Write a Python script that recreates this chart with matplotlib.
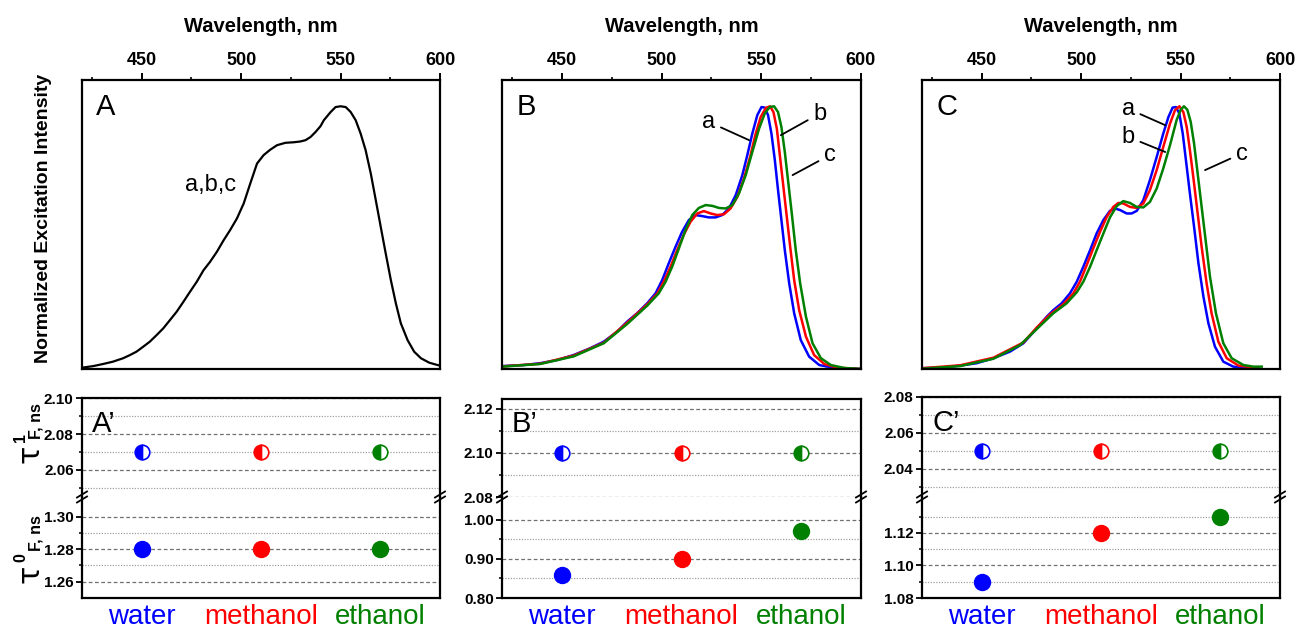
import numpy as np
import matplotlib
matplotlib.use('Agg')
import matplotlib.pyplot as plt
from matplotlib.lines import Line2D

plt.rcParams['font.family'] = ['Liberation Sans', 'DejaVu Sans']

# ---------------- data ----------------
solvents = ['water', 'methanol', 'ethanol']
solvent_colors = ['#0000ff', '#ff0000', '#008000']
wl_ticks = [450, 500, 550, 600]

# Panel A: one curve for a,b,c
A_wl = [420, 425.6, 430.6, 435.6, 440.7, 444.1, 447.4, 450.8, 454.1, 457.5, 460.9, 464.2, 467.6,
        471.0, 474.3, 477.7, 481.1, 484.4, 487.8, 491.2, 494.5, 497.9, 501.3, 504.6, 508.0, 511.3,
        514.7, 518.1, 522.3, 526.5, 529.8, 532.4, 534.9, 537.4, 539.9, 541.6, 545.0, 547.5, 550.0,
        552.6, 555.1, 557.6, 560.1, 562.6, 565.2, 567.7, 570.2, 572.7, 575.3, 577.8, 580.3, 583.7,
        587.0, 590.4, 594.6, 598.8, 600]
A_int = [0.005, 0.011, 0.019, 0.028, 0.041, 0.053, 0.066, 0.085, 0.104, 0.129, 0.155, 0.186, 0.218,
         0.256, 0.294, 0.332, 0.376, 0.408, 0.446, 0.490, 0.529, 0.573, 0.630, 0.706, 0.782, 0.814,
         0.835, 0.852, 0.861, 0.863, 0.866, 0.871, 0.883, 0.902, 0.924, 0.947, 0.978, 0.997, 1.0,
         0.997, 0.978, 0.947, 0.896, 0.833, 0.744, 0.643, 0.541, 0.440, 0.338, 0.250, 0.174, 0.110,
         0.066, 0.041, 0.024, 0.015, 0.013]

# Panel B
B_water_wl = [420, 430.7, 439.1, 447.5, 455.9, 464.2, 471.0, 477.7, 482.7, 487.7, 492.8, 497.0, 500.3,
              503.6, 507.0, 510.3, 513.7, 517.0, 520.4, 523.7, 527.1, 530.4, 533.8, 537.2, 540.5, 543.0,
              545.5, 548.0, 550.1, 551.7, 553.4, 555.1, 556.8, 558.4, 560.1, 561.8, 564.0, 566.5, 569.8,
              574.0, 579.1, 586.6, 600]
B_water = [0.011, 0.015, 0.022, 0.034, 0.053, 0.079, 0.104, 0.142, 0.180, 0.212, 0.250, 0.288, 0.338,
           0.402, 0.465, 0.522, 0.567, 0.586, 0.582, 0.577, 0.577, 0.586, 0.611, 0.662, 0.738, 0.814,
           0.896, 0.966, 0.997, 0.995, 0.966, 0.896, 0.795, 0.681, 0.567, 0.452, 0.326, 0.212, 0.110,
           0.047, 0.015, 0.004, 0.0]
B_meth_wl = [420, 439.1, 455.9, 471.0, 482.7, 492.8, 497.9, 501.1, 504.5, 507.8, 511.2, 514.5, 517.9,
             521.2, 524.6, 527.9, 531.3, 534.6, 538.0, 541.3, 544.4, 547.2, 549.7, 552.3, 554.4, 556.1,
             557.8, 559.4, 561.1, 562.8, 564.5, 566.5, 569.0, 572.4, 576.5, 581.6, 588.3, 600]
B_meth = [0.010, 0.020, 0.051, 0.100, 0.176, 0.246, 0.288, 0.332, 0.389, 0.452, 0.512, 0.560, 0.592,
          0.601, 0.592, 0.586, 0.589, 0.611, 0.655, 0.725, 0.807, 0.896, 0.959, 0.994, 1.0, 0.978,
          0.915, 0.807, 0.693, 0.579, 0.465, 0.338, 0.224, 0.123, 0.053, 0.019, 0.005, 0.0]
B_eth_wl = [420, 439.1, 455.9, 471.0, 482.7, 492.8, 498.6, 502.0, 505.3, 508.7, 512.0, 515.4, 518.7,
            522.1, 525.4, 528.8, 532.1, 535.5, 538.8, 542.2, 545.5, 548.9, 551.7, 554.2, 556.4, 558.4,
            560.1, 561.8, 563.6, 565.3, 567.3, 569.5, 572.4, 575.7, 579.9, 584.9, 591.6, 600]
B_eth = [0.009, 0.019, 0.048, 0.098, 0.171, 0.241, 0.288, 0.332, 0.389, 0.459, 0.529, 0.586, 0.613,
         0.624, 0.621, 0.613, 0.611, 0.624, 0.668, 0.738, 0.826, 0.915, 0.972, 0.997, 1.0, 0.978,
         0.921, 0.826, 0.706, 0.592, 0.452, 0.326, 0.199, 0.098, 0.041, 0.015, 0.004, 0.0]

# Panel C
C_water_wl = [420, 430.7, 439.1, 447.5, 455.9, 464.2, 471.0, 477.7, 482.7, 486.0, 490.2, 494.4, 497.8,
              501.1, 504.5, 507.8, 511.2, 514.5, 517.0, 519.6, 522.9, 525.4, 528.0, 531.3, 534.6, 538.0,
              541.3, 543.9, 546.0, 547.7, 549.4, 551.1, 552.7, 554.7, 556.8, 559.0, 561.5, 564.0, 567.3,
              571.5, 576.5, 584.1]
C_water = [0.003, 0.006, 0.013, 0.022, 0.041, 0.066, 0.098, 0.155, 0.199, 0.224, 0.250, 0.288, 0.332,
           0.389, 0.452, 0.516, 0.567, 0.602, 0.611, 0.605, 0.592, 0.592, 0.602, 0.643, 0.719, 0.807,
           0.896, 0.959, 0.995, 0.997, 0.972, 0.896, 0.795, 0.668, 0.541, 0.402, 0.275, 0.174, 0.085,
           0.028, 0.009, 0.003]
C_meth_wl = [420, 439.1, 455.9, 471.0, 477.7, 484.4, 491.1, 496.1, 499.4, 502.8, 506.1, 509.5, 512.9,
             516.2, 518.7, 521.2, 524.6, 527.9, 531.3, 534.6, 538.0, 541.3, 544.7, 547.2, 549.4, 551.4,
             553.1, 554.7, 556.4, 558.4, 560.6, 563.1, 565.6, 569.0, 573.2, 579.1, 586.6, 589.1]
C_meth = [0.003, 0.014, 0.043, 0.101, 0.158, 0.208, 0.247, 0.288, 0.332, 0.395, 0.459, 0.522, 0.579,
          0.617, 0.632, 0.630, 0.617, 0.613, 0.630, 0.681, 0.757, 0.845, 0.934, 0.985, 1.0, 0.978,
          0.921, 0.833, 0.731, 0.605, 0.465, 0.326, 0.212, 0.104, 0.041, 0.013, 0.006, 0.006]
C_eth_wl = [420, 439.1, 455.9, 469.3, 477.7, 486.0, 492.7, 497.8, 501.1, 504.5, 507.8, 511.2, 514.5,
            517.9, 521.2, 524.6, 527.9, 531.3, 534.6, 538.0, 541.3, 544.7, 548.0, 550.1, 551.7, 553.4,
            555.1, 556.8, 558.4, 560.6, 562.8, 564.8, 567.8, 571.5, 575.7, 581.6, 586.6, 590.8]
C_eth = [0.001, 0.011, 0.039, 0.091, 0.152, 0.212, 0.250, 0.292, 0.332, 0.389, 0.452, 0.516, 0.577,
         0.620, 0.639, 0.632, 0.617, 0.615, 0.636, 0.687, 0.763, 0.852, 0.947, 0.987, 1.0, 0.987,
         0.941, 0.858, 0.757, 0.617, 0.478, 0.351, 0.212, 0.098, 0.041, 0.015, 0.009, 0.009]

# Fluorescence lifetimes (ns)
tau1_A = [2.07, 2.07, 2.07]
tau0_A = [1.28, 1.28, 1.28]
tau1_B = [2.10, 2.10, 2.10]
tau0_B = [0.86, 0.90, 0.97]
tau1_C = [2.05, 2.05, 2.05]
tau0_C = [1.09, 1.12, 1.13]

# ---------------- figure ----------------
W, H = 1299, 628
fig = plt.figure(figsize=(W / 100, H / 100), dpi=100)


def px_axes(x0, y0, x1, y1):
    return fig.add_axes([x0 / W, 1 - y1 / H, (x1 - x0) / W, (y1 - y0) / H])


def fig_text(xpx, ypx, s, **kw):
    return fig.text(xpx / W, 1 - ypx / H, s, **kw)


cols = [(82, 440), (502, 861), (922, 1280)]
top_y = (80, 369)
spine_w = 1.6

# ---- top spectra panels ----
spectra = [
    [(A_wl, A_int, 'black')],
    [(B_water_wl, B_water, solvent_colors[0]), (B_meth_wl, B_meth, solvent_colors[1]),
     (B_eth_wl, B_eth, solvent_colors[2])],
    [(C_water_wl, C_water, solvent_colors[0]), (C_meth_wl, C_meth, solvent_colors[1]),
     (C_eth_wl, C_eth, solvent_colors[2])],
]
letters = ['A', 'B', 'C']
for i, (x0, x1) in enumerate(cols):
    ax = px_axes(x0, top_y[0], x1, top_y[1])
    for wl, it, col in spectra[i]:
        ax.plot(wl, it, color=col, lw=1.8 if i > 0 else 1.6, solid_joinstyle='round')
    ax.set_xlim(420, 600)
    ax.set_ylim(0, 1.1)
    ax.xaxis.tick_top()
    ax.xaxis.set_label_position('top')
    ax.set_xticks(wl_ticks)
    ax.set_xticks([425, 475, 525, 575], minor=True)
    ax.set_yticks([])
    ax.tick_params(axis='x', which='major', direction='out', length=5, width=1.4,
                   labelsize=13, pad=3)
    ax.tick_params(axis='x', which='minor', direction='out', length=2.5, width=1.2)
    for lbl in ax.get_xticklabels():
        lbl.set_fontweight('bold')
    ax.set_xlabel('Wavelength, nm', fontsize=14.5, fontweight='bold', labelpad=14)
    for s in ax.spines.values():
        s.set_linewidth(spine_w)
    ax.text(0.04, 0.88, letters[i], transform=ax.transAxes, fontsize=21,
            ha='left', va='baseline')
    if i == 0:
        ax.set_ylabel('Normalized Excitation Intensity', fontsize=14, fontweight='bold')
        ax.yaxis.set_label_coords(-0.084, 0.522)
        ax.text(484.5, 0.70, 'a,b,c', fontsize=17, ha='center', va='center')
    elif i == 1:
        kw = dict(fontsize=17, ha='center', va='center',
                  arrowprops=dict(arrowstyle='-', color='black', lw=1.3,
                                  shrinkA=2, shrinkB=0))
        ax.annotate('a', xy=(543.9, 0.871), xytext=(523.8, 0.94), **kw)
        ax.annotate('b', xy=(559.8, 0.89), xytext=(579.2, 0.972), **kw)
        ax.annotate('c', xy=(565.7, 0.738), xytext=(584.3, 0.814), **kw)
    else:
        kw = dict(fontsize=17, ha='center', va='center',
                  arrowprops=dict(arrowstyle='-', color='black', lw=1.3,
                                  shrinkA=2, shrinkB=0))
        ax.annotate('a', xy=(542.3, 0.928), xytext=(523.8, 0.99), **kw)
        ax.annotate('b', xy=(542.3, 0.826), xytext=(523.8, 0.883), **kw)
        ax.annotate('c', xy=(562.3, 0.757), xytext=(580.7, 0.82), **kw)

# ---- bottom lifetime panels ----
bottom_cfg = [
    dict(t1=tau1_A, t0=tau0_A, tlim=(2.045, 2.10), tmaj=[2.06, 2.08, 2.10], tmin=[2.05, 2.07, 2.09],
         blim=(1.25, 1.312), bmaj=[1.26, 1.28, 1.30], bmin=[1.27, 1.29], fmt='%.2f', lab='A\u2019',
         top=398),
    dict(t1=tau1_B, t0=tau0_B, tlim=(2.08, 2.1245), tmaj=[2.08, 2.10, 2.12], tmin=[2.09, 2.11],
         blim=(0.80, 1.058), bmaj=[0.80, 0.90, 1.00], bmin=[0.85, 0.95], fmt='%.2f', lab='B\u2019',
         top=399),
    dict(t1=tau1_C, t0=tau0_C, tlim=(2.0244, 2.08), tmaj=[2.04, 2.06, 2.08], tmin=[2.03, 2.05, 2.07],
         blim=(1.08, 1.142), bmaj=[1.08, 1.10, 1.12], bmin=[1.09, 1.11, 1.13], fmt='%.2f', lab='C\u2019',
         top=397),
]
brk_y = 497
bot_y = 598
xcat = np.arange(1, len(solvents) + 1)

for i, (x0, x1) in enumerate(cols):
    cfg = bottom_cfg[i]
    axt = px_axes(x0, cfg['top'], x1, brk_y)
    axb = px_axes(x0, brk_y, x1, bot_y)
    for ax, lim, maj, mnr in [(axt, cfg['tlim'], cfg['tmaj'], cfg['tmin']),
                              (axb, cfg['blim'], cfg['bmaj'], cfg['bmin'])]:
        ax.set_xlim(0.5, 3.5)
        ax.set_ylim(*lim)
        ax.set_yticks(maj)
        ax.set_yticks(mnr, minor=True)
        ax.set_yticklabels([cfg['fmt'] % v for v in maj], fontweight='bold')
        ax.tick_params(axis='y', which='major', direction='out', length=4.5, width=1.3,
                       labelsize=11, pad=1.5)
        ax.tick_params(axis='y', which='minor', direction='out', length=2.5, width=1.1)
        ax.yaxis.grid(True, which='major', ls=(0, (3, 2)), color='#707070', lw=0.9)
        ax.yaxis.grid(True, which='minor', ls=(0, (1, 1.2)), color='#a0a0a0', lw=0.9)
        ax.set_axisbelow(True)
        for s in ax.spines.values():
            s.set_linewidth(spine_w)
    axt.spines['bottom'].set_visible(False)
    axb.spines['top'].set_visible(False)
    axt.set_xticks([])
    axb.set_xticks(xcat)
    axb.set_xticklabels(solvents, fontsize=20)
    axb.tick_params(axis='x', length=0, pad=4.5)
    for lbl, col in zip(axb.get_xticklabels(), solvent_colors):
        lbl.set_color(col)

    for xc, v1, v0, col in zip(xcat, cfg['t1'], cfg['t0'], solvent_colors):
        axt.plot(xc, v1, 'o', ms=10.5, fillstyle='left', markerfacecolor=col,
                 markerfacecoloralt='white', markeredgecolor=col, mew=1.2, zorder=5)
        axb.plot(xc, v0, 'o', ms=11.5, color=col, mec=col, zorder=5)

    axt.text(0.028, 0.66, cfg['lab'], transform=axt.transAxes, fontsize=21,
             ha='left', va='baseline')

    # break marks on both spines
    for xpx in (x0, x1):
        for dy in (-2.5, 2.5):
            fig.add_artist(Line2D([(xpx - 5) / W, (xpx + 5) / W],
                                  [1 - (brk_y + dy + 3) / H, 1 - (brk_y + dy - 3) / H],
                                  color='black', lw=1.3))

# y-axis labels of the lifetime panels: tau, superscript index, "F, ns" subscript
for ty, sup, sy, fy in [(454, '1', 437, 421), (574, '0', 558, 533)]:
    fig_text(30.5, ty, '\u03c4', fontsize=22, family='DejaVu Sans', rotation=90,
             ha='center', va='center')
    fig_text(21, sy, sup, fontsize=11.5, fontweight='bold', rotation=90,
             ha='center', va='center')
    fig_text(36, fy, 'F, ns', fontsize=11.5, fontweight='bold', rotation=90,
             ha='center', va='center')

fig.savefig('out.png', dpi=100)
